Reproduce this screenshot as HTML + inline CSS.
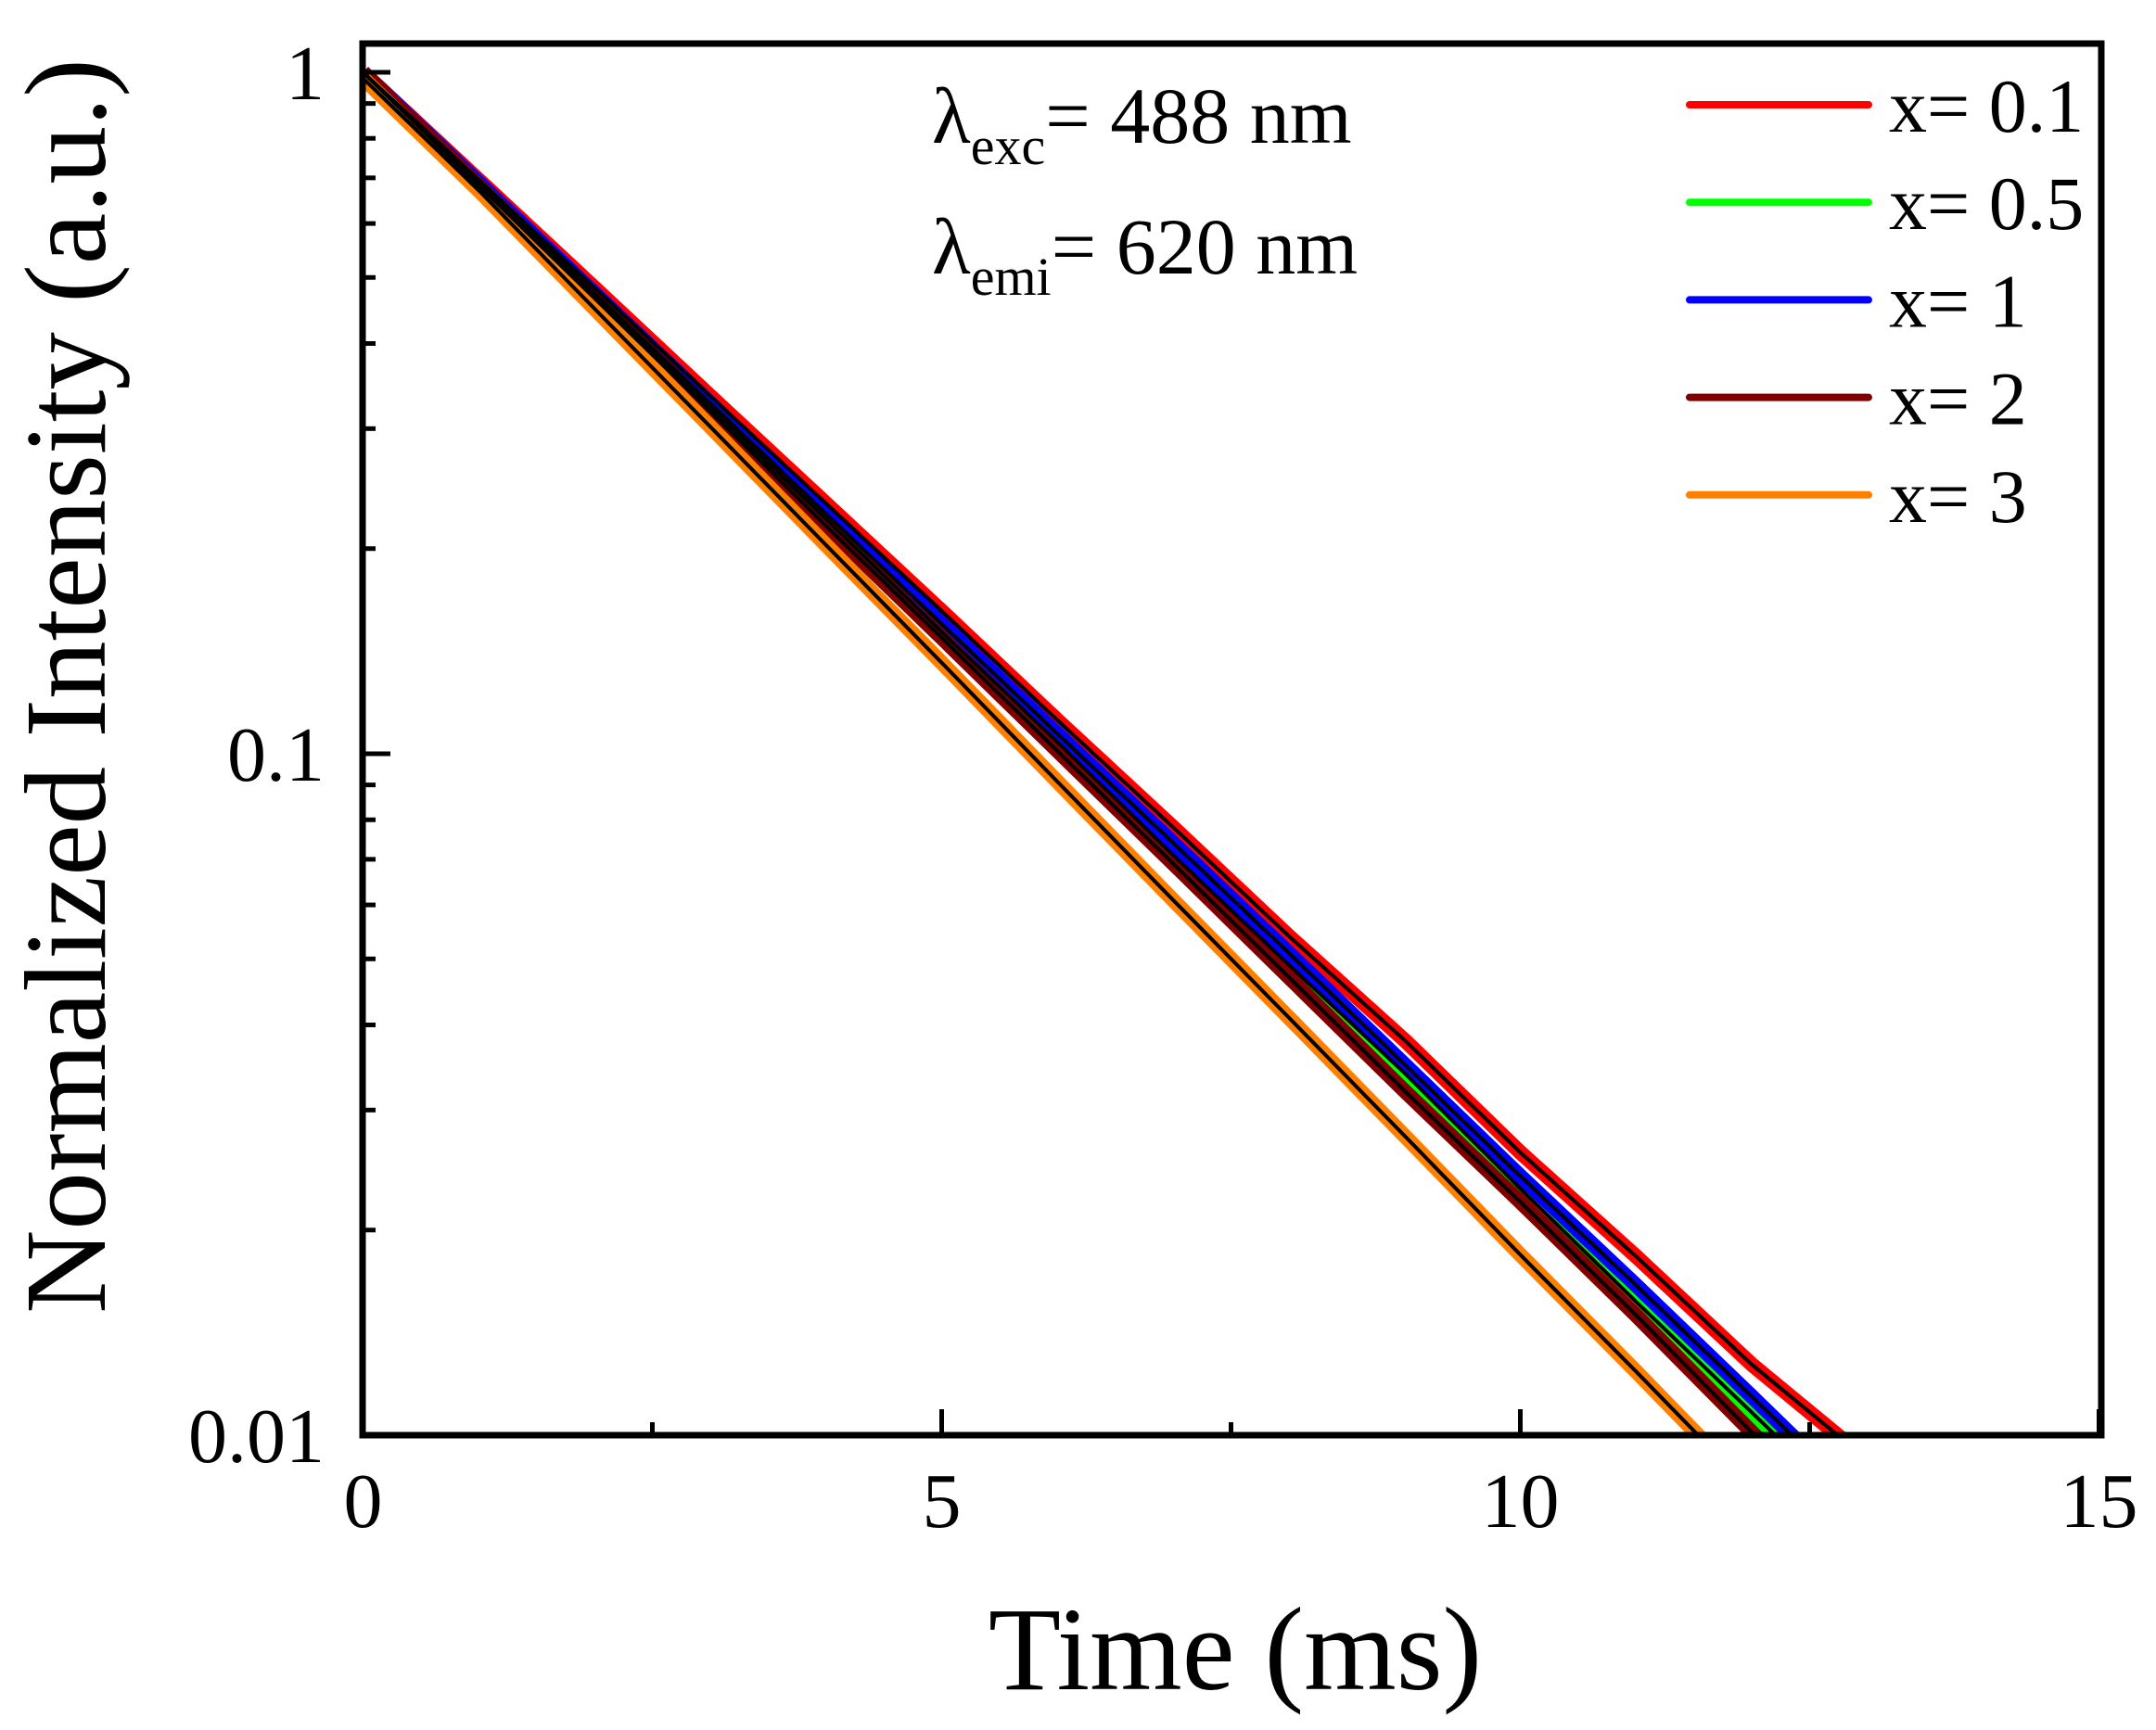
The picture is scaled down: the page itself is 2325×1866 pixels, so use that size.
<!DOCTYPE html>
<html><head><meta charset="utf-8"><style>
html,body{margin:0;padding:0;background:#fff;}
svg{display:block;font-family:"Liberation Serif","Times New Roman",serif;}
</style></head><body>
<svg id="chart" width="2325" height="1866" viewBox="0 0 2325 1866" xmlns="http://www.w3.org/2000/svg">
<defs><clipPath id="plotclip"><rect x="391" y="47" width="1875" height="1501"/></clipPath></defs>
<g id="series" clip-path="url(#plotclip)"></g>
<g id="fits" clip-path="url(#plotclip)"></g>
<rect x="391" y="47" width="1875" height="1501" fill="none" stroke="#000" stroke-width="7"/>
<g id="ticks"></g>
<text x="1332" y="1822" font-size="128" text-anchor="middle">Time (ms)</text>
<text transform="translate(113,740) rotate(-90)" font-size="125" text-anchor="middle">Normalized Intensity (a.u.)</text>
<text x="1005" y="154" font-size="86">λ<tspan font-size="58" dy="23">exc</tspan><tspan dy="-23">= 488 nm</tspan></text>
<text x="1005" y="295" font-size="86">λ<tspan font-size="58" dy="23">emi</tspan><tspan dy="-23">= 620 nm</tspan></text>
<g id="legend"></g>
</svg>
<script>
const times = [0,1,2,3,4,5,6,7,8,9,10,11,12,13];
const seriesNames = ["x= 0.1","x= 0.5","x= 1","x= 2","x= 3"];
const seriesColors = ["#ff0000","#00ff00","#0000ff","#800000","#ff8000"];
const red01 = [1,0.695,0.483,0.335,0.233,0.162,0.112,0.078,0.054,0.038,0.026,0.0183,0.0127,0.0092];
const green05 = [1,0.686,0.47,0.322,0.221,0.151,0.104,0.071,0.049,0.034,0.023,0.0157,0.0108,0.0074];
const blue1 = [1,0.689,0.474,0.327,0.225,0.155,0.107,0.074,0.051,0.035,0.024,0.0166,0.0114,0.0078];
const brown2 = [1,0.682,0.466,0.318,0.216,0.148,0.101,0.069,0.047,0.032,0.022,0.015,0.0101,0.0069];
const orange3 = [0.98,0.671,0.45,0.302,0.2025,0.136,0.091,0.061,0.041,0.0275,0.0184,0.0124,0.0083,0.0056];
const seriesValues = [red01,green05,blue1,brown2,orange3];
const xTicks = [0,5,10,15];
const xMinor = [2.5,7.5,12.5];
const yTicks = [1,0.1,0.01];
const yTickLabels = ["1","0.1","0.01"];

const NS="http://www.w3.org/2000/svg";
const X0=391.5, XS=124.8, Y1=78, DEC=735;
function xs(t){return X0+t*XS;}
function ys(v){return Y1-Math.log10(v)*DEC;}
function mk(tag,attrs,parent){const e=document.createElementNS(NS,tag);for(const k in attrs)e.setAttribute(k,attrs[k]);parent.appendChild(e);return e;}
function pathOf(vals){return vals.map((v,j)=>(j?'L':'M')+xs(times[j]).toFixed(1)+','+ys(v).toFixed(1)).join(' ');}

const sg=document.getElementById('series'), fg=document.getElementById('fits');
seriesValues.forEach((vals,i)=>{
  const p=mk('path',{d:pathOf(vals),fill:'none',stroke:seriesColors[i],'stroke-width':16,'stroke-linejoin':'round'},sg);
  
  
});
seriesValues.forEach((vals,i)=>{
  const p=mk('path',{d:pathOf(vals),fill:'none',stroke:'#000','stroke-width':4},fg);
  
  
});

const tg=document.getElementById('ticks');
xTicks.forEach(t=>{
  const l=mk('line',{x1:xs(t),x2:xs(t),y1:1548,y2:1520,stroke:'#000','stroke-width':5},tg);
  
  
  const tx=mk('text',{x:xs(t),y:1647,'font-size':84,'text-anchor':'middle'},tg);
  tx.textContent=String(t);
  
  
});
xMinor.forEach(t=>{
  const l=mk('line',{x1:xs(t),x2:xs(t),y1:1548,y2:1534,stroke:'#000','stroke-width':5},tg);
  
  
});
yTicks.forEach((v,i)=>{
  const l=mk('line',{x1:391,x2:421,y1:ys(v),y2:ys(v),stroke:'#000','stroke-width':5},tg);
  
  
  const tx=mk('text',{x:350,y:ys(v)+29,'font-size':84,'text-anchor':'end'},tg);
  tx.textContent=yTickLabels[i];
  
  
  if(i<yTicks.length-1){
    for(let m=2;m<=9;m++){
      const mv=v/10*m;
      const ml=mk('line',{x1:391,x2:405,y1:ys(mv),y2:ys(mv),stroke:'#000','stroke-width':5},tg);
      
      
    }
  }
});

const lg=document.getElementById('legend');
seriesNames.forEach((n,i)=>{
  const y=113+i*105.2;
  const l=mk('line',{x1:1822,x2:2015,y1:y,y2:y,stroke:seriesColors[i],'stroke-width':8,'stroke-linecap':'round'},lg);
  
  
  const tx=mk('text',{x:2037,y:y+29,'font-size':82},lg);
  tx.textContent=n;
  
  
});
</script>
</body></html>
